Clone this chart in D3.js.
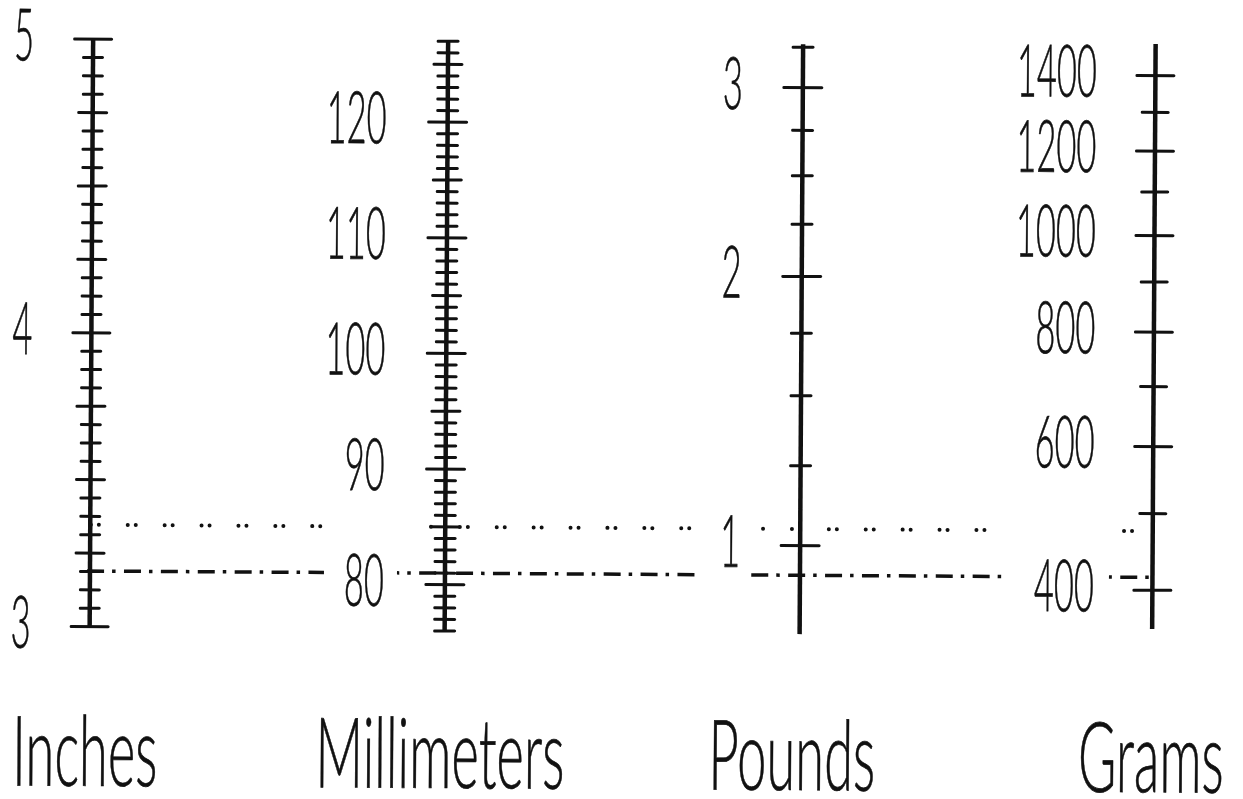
<!DOCTYPE html>
<html><head><meta charset="utf-8">
<script src="https://cdn.jsdelivr.net/npm/d3@7"></script>
<style>html,body{margin:0;padding:0;background:#fff;} svg{display:block;}</style>
</head><body>
<svg id="chart" width="1243" height="799"></svg>
<script>
// ---------------- data ----------------
const axisTitles   = ["Inches", "Millimeters", "Pounds", "Grams"];
const inchDomain   = [3, 5];
const inchLabels   = [3, 4, 5];
const mmDomain     = [76, 127];
const mmLabels     = [80, 90, 100, 110, 120];
const poundDomain  = [0.765, 3.27];
const poundLabels  = [1, 2, 3];
const poundMinor   = [1.25, 1.5, 1.75, 2.25, 2.5, 2.75, 3.25];
const gramDomain   = [355, 1490];
const gramLabels   = [400, 600, 800, 1000, 1200, 1400];
const gramMinor    = [500, 700, 900, 1100, 1300];
const refLinesMM   = [85, 81];          // dotted, dash-dot reference readings (mm)
const GRAMS_PER_POUND = 453.592;
const MM_PER_INCH = 25.4;

// ---------------- layout ----------------
const svg = d3.select("#chart");
const root = svg.append("g").attr("transform", "rotate(0.34,621,400)");
const FONT = "Lato, 'Liberation Sans', sans-serif";
const WEIGHT = 300;
const LABEL_SIZE = 72.6, TITLE_SIZE = 97.7;

const lenScale  = d3.scaleLinear().domain([3 * MM_PER_INCH, 5 * MM_PER_INCH]).range([629.7, 42.3]);
const mmScale   = lenScale;
const inchScale = d3.scaleLinear().domain([3, 5]).range([lenScale(3 * MM_PER_INCH), lenScale(5 * MM_PER_INCH)]);
const poundScale = d3.scalePow().exponent(1 / 3).domain([1, 3]).range([544.6, 86.6]);
const gramScale  = d3.scalePow().exponent(1 / 3).domain([GRAMS_PER_POUND, 3 * GRAMS_PER_POUND]).range([544.6, 86.6]);

function measure(txt, size) {
  const t = svg.append("text").attr("font-family", FONT).attr("font-weight", WEIGHT)
    .attr("font-size", size).text(txt);
  const w = t.node().getComputedTextLength();
  t.remove();
  return w;
}
const sxDigits = 60 / measure("120", LABEL_SIZE);
const sxTitle  = 249 / measure("Millimeters", TITLE_SIZE);

function addText(x, y, txt, anchor, size, sx) {
  root.append("text")
    .attr("transform", `translate(${x},${y}) scale(${sx},1)`)
    .attr("text-anchor", anchor)
    .attr("font-family", FONT).attr("font-weight", WEIGHT)
    .attr("font-size", size).attr("fill", "#111")
    .attr("stroke", "#111").attr("stroke-width", 0.7)
    .text(txt);
}

function drawAxis(spec) {
  const g = root.append("g");
  g.append("line")
    .attr("x1", spec.x).attr("x2", spec.x)
    .attr("y1", spec.scale(spec.domain[0])).attr("y2", spec.scale(spec.domain[1]))
    .attr("stroke", "#111").attr("stroke-width", 4.5).attr("stroke-linecap", "butt");
  g.selectAll("line.tick").data(spec.ticks).join("line")
    .attr("class", "tick")
    .attr("x1", d => spec.x - spec.half(d)).attr("x2", d => spec.x + spec.half(d))
    .attr("y1", d => spec.scale(d)).attr("y2", d => spec.scale(d))
    .attr("stroke", "#111").attr("stroke-width", 3).attr("stroke-linecap", "round");
  spec.labels.forEach(v => {
    addText(spec.labelX, spec.scale(v) + 21.5, String(v), spec.anchor, LABEL_SIZE, sxDigits);
  });
}

const isMult = (v, m) => Math.abs(v / m - Math.round(v / m)) < 1e-6;

drawAxis({
  x: 91, scale: inchScale, domain: inchDomain,
  ticks: d3.range(0, 33).map(i => inchDomain[0] + i / 16),
  half: v => isMult(v, 1) ? 18.5 : isMult(v, 0.25) ? 14 : 9.5,
  labels: inchLabels, labelX: 32, anchor: "end"
});
drawAxis({
  x: 446, scale: mmScale, domain: mmDomain,
  ticks: d3.range(mmDomain[0], mmDomain[1] + 1),
  half: v => isMult(v, 10) ? 19 : isMult(v, 5) ? 14 : 10,
  labels: mmLabels, labelX: 385, anchor: "end"
});
drawAxis({
  x: 801, scale: poundScale, domain: poundDomain,
  ticks: poundLabels.concat(poundMinor),
  half: v => poundLabels.includes(v) ? 19 : 10,
  labels: poundLabels, labelX: 721, anchor: "start"
});
drawAxis({
  x: 1153.5, scale: gramScale, domain: gramDomain,
  ticks: gramLabels.concat(gramMinor),
  half: v => gramLabels.includes(v) ? 18.5 : 13,
  labels: gramLabels, labelX: 1095, anchor: "end"
});

// titles
const titleX = [87, 442, 794, 1153];
axisTitles.forEach((t, i) => addText(titleX[i], 789, t, "middle", TITLE_SIZE, sxTitle));

// reference lines (dotted and dash-dot), drawn as segments sharing one dash phase
const refStyles = [
  { dash: [0.01, 8, 0.01, 28.88], width: 4, cap: "round", anchor: 128.5,
    segs: [[91.6, 325], [424, 693], [757, 992], [1124, 1135]] },
  { dash: [17, 8, 3.5, 8.4], width: 3.5, cap: "butt", anchor: 125,
    segs: [[88, 325], [398, 697], [752, 1006], [1110, 1150]] }
];
refLinesMM.forEach((mm, i) => {
  const st = refStyles[i];
  const P = d3.sum(st.dash);
  const y = mmScale(mm);
  st.segs.forEach(([x1, x2]) => {
    root.append("line")
      .attr("x1", x1).attr("x2", x2).attr("y1", y).attr("y2", y)
      .attr("stroke", "#111").attr("stroke-width", st.width)
      .attr("stroke-linecap", st.cap)
      .attr("stroke-dasharray", st.dash.join(" "))
      .attr("stroke-dashoffset", (((x1 - st.anchor) % P) + P) % P);
  });
});
</script>
</body></html>
